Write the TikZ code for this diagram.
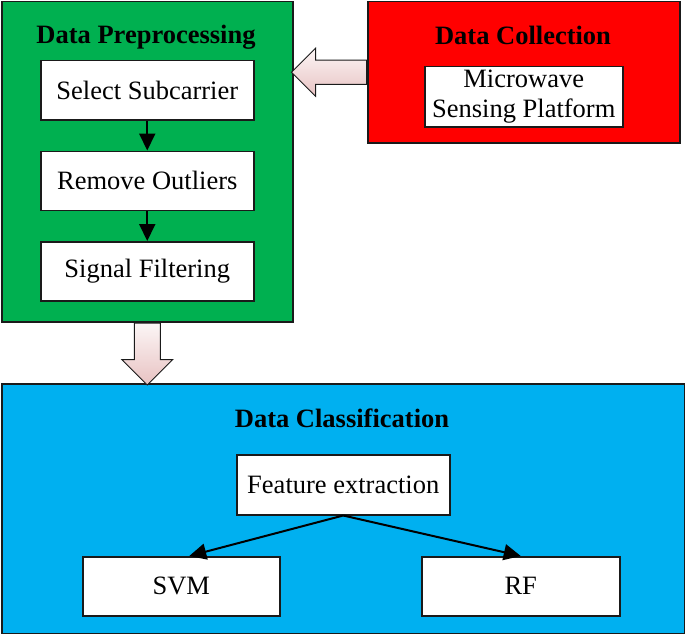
\documentclass[tikz,border=0pt]{standalone}
\usepackage{fontspec}
\setmainfont{Liberation Serif}
\usetikzlibrary{positioning,shapes.arrows,arrows.meta}

\definecolor{prepgreen}{HTML}{00B050}
\definecolor{collred}{HTML}{FF0000}
\definecolor{classblue}{HTML}{00B0F0}
\definecolor{arrowpink}{HTML}{E8C2C2}
\definecolor{edgegray}{HTML}{1A1A1A}

\begin{document}
\begin{tikzpicture}[
  x=1pt, y=-1pt,
  font=\fontsize{26.5}{30}\selectfont,
  panel/.style={draw=edgegray, rectangle, line width=1.5pt, anchor=north west, inner sep=0pt, fill=#1},
  box/.style={draw=edgegray, rectangle, line width=1.5pt, fill=white, anchor=north west, inner sep=0pt,
    minimum width=213pt, minimum height=59pt, align=center},
  title/.style={font=\fontsize{26.5}{30}\selectfont\bfseries},
  bigarrow/.style={draw=edgegray, line width=1pt, single arrow, anchor=tail, top color=white!85!arrowpink,
    bottom color=arrowpink},
  link/.style={->, line width=2pt},
  >={Triangle[length=17pt,width=16pt]}
]
\useasboundingbox (0,0) rectangle (685,634);

% Data preprocessing block
\node[panel=prepgreen, minimum width=291pt, minimum height=320pt] (prep) at (1,1) {};
\node[title] (preptitle) at (146,37) {Data Preprocessing};
\node[box] (sel) at (40,60) {Select Subcarrier};
\node[box, below=30pt of sel] (rem) {Remove Outliers};
\node[box, below=30pt of rem] (filt) {Signal Filtering};

% Data collection block
\node[panel=collred, minimum width=312pt, minimum height=141pt] (coll) at (367,1) {};
\node[title] (colltitle) at (523,35) {Data Collection};
\node[box, minimum width=198pt, minimum height=60pt] (mwsp) at (424,66) {Microwave\\Sensing Platform};

% Data classification block
\node[panel=classblue, minimum width=683pt, minimum height=250pt] (class) at (1,383) {};
\node[title] (classtitle) at (342,418) {Data Classification};
\node[box, minimum height=60pt] (fe) at (236,454) {Feature extraction};
\node[box, minimum width=197pt] (svm) at (82,556) {SVM};
\node[box, minimum width=198pt] (rf) at (421,556) {RF};

% Block arrows between stages
\node[bigarrow, shape border rotate=180, inner sep=11.5pt, single arrow head extend=12pt,
  minimum width=47pt, minimum height=75pt] (collarr) at (coll.west) {};
\node[bigarrow, shape border rotate=270, inner sep=12.5pt, single arrow head extend=12.5pt,
  minimum width=50pt, minimum height=62pt] (preparr) at (prep.south) {};

% Arrows inside the blocks
\draw[link] (sel) -- (rem);
\draw[link] (rem) -- (filt);
\draw[link] (fe.south) -- ([xshift=8pt]svm.north);
\draw[link] (fe.south) -- (rf.north);

\end{tikzpicture}
\end{document}
